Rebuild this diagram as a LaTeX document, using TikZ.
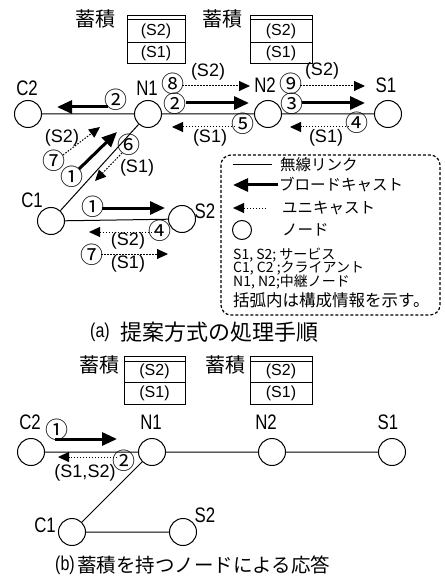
\documentclass[tikz,border=0pt]{standalone}
\usepackage{fontspec}
\setmainfont{Noto Sans CJK JP}
\newfontfamily\jp{Noto Sans CJK JP}
\newfontfamily\lib{Liberation Sans}
\newfontfamily\latn[FakeStretch=0.8]{Liberation Sans}
\usetikzlibrary{arrows.meta}
\newcommand\fsz[1]{\fontsize{#1}{#1}\selectfont}
\begin{document}
\begin{tikzpicture}[x=1pt,y=-1pt,
  nd/.style={circle,draw,line width=1pt,minimum size=27pt,inner sep=0pt},
  lb/.style={font=\latn\fsz{21},inner sep=0pt},
  num/.style={font=\jp\fsz{23},inner sep=0pt},
  cfg/.style={font=\lib\fsz{18},inner sep=0pt},
  boxt/.style={font=\lib\fsz{16},inner sep=0pt},
  jlb/.style={font=\jp\fsz{20},inner sep=0pt},
  lnk/.style={line width=1pt},
  bc/.style={line width=3pt,-{Triangle[length=15pt,width=13pt]}},
  uc/.style={line width=1pt,dash pattern=on 1.5pt off 1.5pt,-{Triangle[length=11pt,width=10pt]}},
  leg/.style={font=\jp\fsz{15.5},inner sep=0pt,anchor=west},
  legs/.style={font=\jp\fsz{14},inner sep=0pt,anchor=west},
  legl/.style={font=\jp\fsz{16.5},inner sep=0pt,anchor=west},
  captxt/.style={inner sep=0pt,anchor=west},
  legbox/.style={line width=1.2pt,dash pattern=on 3pt off 2pt,rounded corners=10pt}
]
\path[use as bounding box] (0,0) rectangle (444,577);

% ================= (a) =================
\node[jlb] (st1a) at (95,19) {蓄積};
\node[jlb] (st2a) at (222,19) {蓄積};
\draw[lnk] (127,16) rectangle (185,64) (127,20) -- (185,20) (127,43) -- (185,43);
\draw[lnk] (250,16) rectangle (312,64) (250,20) -- (312,20) (250,43) -- (312,43);
\node[boxt] (b1a2) at (156,31.5) {(S2)};
\node[boxt] (b1a1) at (156,53.5) {(S1)};
\node[boxt] (b2a2) at (281,31.5) {(S2)};
\node[boxt] (b2a1) at (281,53.5) {(S1)};

\node[nd] (C2a) at (28,114) {};
\node[nd] (N1a) at (148,114) {};
\node[nd] (N2a) at (268,114) {};
\node[nd] (S1a) at (388,114) {};
\node[nd] (C1a) at (51,221) {};
\node[nd] (S2a) at (182,219) {};
\draw[lnk] (C2a) -- (N1a) (N1a) -- (N2a) (N2a) -- (S1a) (C1a) -- (N1a) (C1a) -- (S2a);

\node[lb] (lC2a) at (27,88) {C2};
\node[lb] (lN1a) at (147,88) {N1};
\node[lb] (lN2a) at (265,85) {N2};
\node[lb] (lS1a) at (386,85) {S1};
\node[lb] (lC1a) at (32,200) {C1};
\node[lb] (lS2a) at (205,211) {S2};

% C2 side broadcast
\node[num] (na2l) at (116,100) {②};
\coordinate (a1s) at (108,107); \coordinate (a1e) at (57,107);
\draw[bc] (a1s) -- (a1e);
% N1 -> N2
\node[num] (na2r) at (175,104) {②};
\coordinate (a2s) at (186,103); \coordinate (a2e) at (249,103);
\draw[bc] (a2s) -- (a2e);
\node[num] (na8) at (173,84) {⑧};
\coordinate (a8s) at (182,86); \coordinate (a8e) at (250,86);
\draw[uc] (a8s) -- (a8e);
\node[cfg] (ca8) at (208,72) {(S2)};
% N2 -> S1
\node[num] (na3) at (292,104) {③};
\coordinate (a3s) at (302,103); \coordinate (a3e) at (365,103);
\draw[bc] (a3s) -- (a3e);
\node[num] (na9) at (291,84) {⑨};
\coordinate (a9s) at (300,86); \coordinate (a9e) at (365,86);
\draw[uc] (a9s) -- (a9e);
\node[cfg] (ca9) at (322,71) {(S2)};
% S1 -> N2 unicast
\node[num] (na4) at (357,123) {④};
\coordinate (a4s) at (349,127); \coordinate (a4e) at (290,127);
\draw[uc] (a4s) -- (a4e);
\node[cfg] (ca4) at (326,138) {(S1)};
% N2 -> N1 unicast
\node[num] (na5) at (243,124) {⑤};
\coordinate (a5s) at (235,127); \coordinate (a5e) at (172,127);
\draw[uc] (a5s) -- (a5e);
\node[cfg] (ca5) at (210,138) {(S1)};
% diagonal C1 - N1
\node[num] (na1d) at (72,177) {①};
\coordinate (a1ds) at (79,169); \coordinate (a1de) at (117,132);
\draw[bc] (a1ds) -- (a1de);
\node[num] (na7d) at (54,161) {⑦};
\coordinate (a7ds) at (63,155); \coordinate (a7de) at (100,127);
\draw[uc] (a7ds) -- (a7de);
\node[cfg] (ca7d) at (62,138) {(S2)};
\node[num] (na6) at (129,145) {⑥};
\coordinate (a6s) at (122,153); \coordinate (a6e) at (95,181);
\draw[uc] (a6s) -- (a6e);
\node[cfg] (ca6) at (137,168) {(S1)};
% C1 - S2
\node[num] (na1h) at (93,207) {①};
\coordinate (a1hs) at (102,208); \coordinate (a1he) at (165,208);
\draw[bc] (a1hs) -- (a1he);
\node[num] (na4h) at (160,231) {④};
\coordinate (a4hs) at (152,232); \coordinate (a4he) at (89,232);
\draw[uc] (a4hs) -- (a4he);
\node[cfg] (ca4h) at (128,241) {(S2)};
\node[num] (na7h) at (92,255) {⑦};
\coordinate (a7hs) at (101,254); \coordinate (a7he) at (168,254);
\draw[uc] (a7hs) -- (a7he);
\node[cfg] (ca7h) at (128,264) {(S1)};

% legend
\draw[legbox] (221,155) rectangle (440,315);
\coordinate (L1a) at (233,165); \coordinate (L1b) at (272,165);
\draw[lnk] (L1a) -- (L1b);
\node[leg] (L1t) at (280,165) {無線リンク};
\coordinate (L2a) at (278,185); \coordinate (L2b) at (233,185);
\draw[bc] (L2a) -- (L2b);
\node[leg] (L2t) at (279,185) {ブロードキャスト};
\coordinate (L3a) at (266,208); \coordinate (L3b) at (233,208);
\draw[uc] (L3a) -- (L3b);
\node[leg] (L3t) at (282,208) {ユニキャスト};
\node[circle,draw,line width=1pt,minimum size=19pt,inner sep=0pt] (L4c) at (242,230) {};
\node[leg] (L4t) at (282,230) {ノード};
\node[legs] (L5) at (233,255) {S1, S2; サービス};
\node[legs] (L6) at (233,268.5) {C1, C2 ;クライアント};
\node[legs] (L7) at (233,282) {N1, N2;中継ノード};
\node[legl] (L8) at (233,300) {括弧内は構成情報を示す。};

\node[captxt] (capa1) at (90,332) {\latn\fsz{20}(a)};
\node[captxt] (capa2) at (120,332) {\jp\fsz{22}提案方式の処理手順};

% ================= (b) =================
\node[jlb] (st1b) at (99,365) {蓄積};
\node[jlb] (st2b) at (225,365) {蓄積};
\draw[lnk] (124,356) rectangle (185,404) (124,361) -- (185,361) (124,382) -- (185,382);
\draw[lnk] (250,356) rectangle (312,404) (250,361) -- (312,361) (250,382) -- (312,382);
\node[boxt] (b1b2) at (154.5,371.5) {(S2)};
\node[boxt] (b1b1) at (154.5,393) {(S1)};
\node[boxt] (b2b2) at (281,371.5) {(S2)};
\node[boxt] (b2b1) at (281,393) {(S1)};

\node[nd] (C2b) at (31,452) {};
\node[nd] (N1b) at (152,452) {};
\node[nd] (N2b) at (272,452) {};
\node[nd] (S1b) at (392,452) {};
\node[nd] (C1b) at (72,532) {};
\node[nd] (S2b) at (183,532) {};
\draw[lnk] (C2b) -- (N1b) (N1b) -- (N2b) (N2b) -- (S1b) (C1b) -- (N1b) (C1b) -- (S2b);

\node[lb] (lC2b) at (30,422) {C2};
\node[lb] (lN1b) at (151,422) {N1};
\node[lb] (lN2b) at (266,422) {N2};
\node[lb] (lS1b) at (388,422) {S1};
\node[lb] (lC1b) at (45,525) {C1};
\node[lb] (lS2b) at (205,515) {S2};

\node[num] (nb1) at (57,430) {①};
\coordinate (b1s) at (55,439); \coordinate (b1e) at (117,439);
\draw[bc] (b1s) -- (b1e);
\node[num] (nb2) at (124,461) {②};
\coordinate (b2s) at (117,457); \coordinate (b2e) at (58,457);
\draw[uc] (b2s) -- (b2e);
\node[cfg] (cb2) at (85,473) {(S1,S2)};

\node[captxt] (capb1) at (55,565) {\latn\fsz{20}(b)};
\node[captxt] (capb2) at (77,565) {\jp\fsz{19.5}蓄積を持つノードによる応答};
\end{tikzpicture}
\end{document}
